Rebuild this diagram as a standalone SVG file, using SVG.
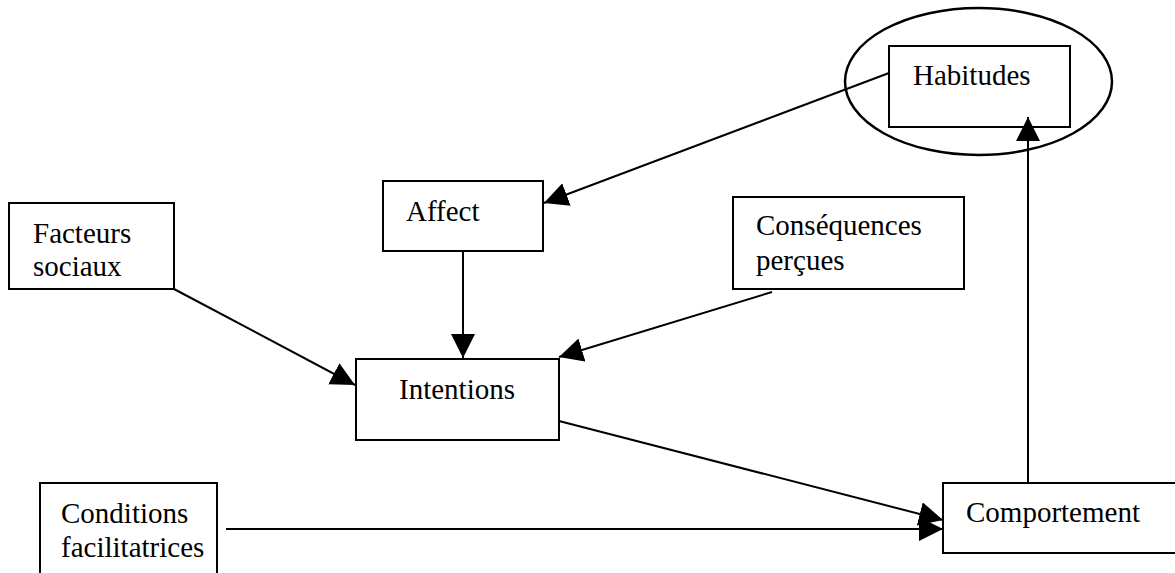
<svg xmlns="http://www.w3.org/2000/svg" width="1175" height="573" viewBox="0 0 1175 573">
<style>
.box{fill:#fff;stroke:#000;stroke-width:2}
.lbl{font-family:"Liberation Serif","Times New Roman",serif;font-size:29px;fill:#000}
.edge{stroke:#000;stroke-width:2;fill:none}
</style>
<defs>
<marker id="arr" markerUnits="userSpaceOnUse" markerWidth="24" markerHeight="24" viewBox="0 0 22 22" refX="22" refY="11" orient="auto">
<path d="M0,0 L22,11 L0,22 z" fill="#000"/>
</marker>
</defs>
<rect width="1175" height="573" fill="#fff"/>
<g id="habitudes">
<ellipse cx="978.5" cy="81.5" rx="133.5" ry="73.5" fill="none" stroke="#000" stroke-width="2.5"/>
<rect class="box" x="889" y="46" width="181" height="81"/>
<text class="lbl" x="913" y="85">Habitudes</text>
</g>
<g id="affect">
<rect class="box" x="383" y="181" width="160" height="70"/>
<text class="lbl" x="406" y="221">Affect</text>
</g>
<g id="facteurs">
<rect class="box" x="9" y="203" width="165" height="86"/>
<text class="lbl" x="33" y="243">Facteurs</text>
<text class="lbl" x="33" y="276">sociaux</text>
</g>
<g id="consequences">
<rect class="box" x="733" y="197" width="231" height="92"/>
<text class="lbl" x="756" y="235">Conséquences</text>
<text class="lbl" x="756" y="270">perçues</text>
</g>
<g id="intentions">
<rect class="box" x="356" y="359" width="203" height="81"/>
<text class="lbl" x="399" y="399">Intentions</text>
</g>
<g id="conditions">
<rect class="box" x="40" y="483" width="177" height="110"/>
<text class="lbl" x="61" y="523">Conditions</text>
<text class="lbl" x="61" y="557">facilitatrices</text>
</g>
<g id="comportement">
<rect class="box" x="943" y="483" width="250" height="70"/>
<text class="lbl" x="966" y="522">Comportement</text>
</g>
<g id="connectors">
<line class="edge" x1="889" y1="73" x2="544" y2="203" marker-end="url(#arr)"/>
<line class="edge" x1="463" y1="251" x2="463" y2="358" marker-end="url(#arr)"/>
<line class="edge" x1="174" y1="289" x2="355" y2="385" marker-end="url(#arr)"/>
<line class="edge" x1="772" y1="292" x2="559" y2="357" marker-end="url(#arr)"/>
<line class="edge" x1="559" y1="421" x2="943" y2="520" marker-end="url(#arr)"/>
<line class="edge" x1="226" y1="529" x2="943" y2="529" marker-end="url(#arr)"/>
<line class="edge" x1="1028" y1="483" x2="1028" y2="117" marker-end="url(#arr)"/>
</g>
</svg>
